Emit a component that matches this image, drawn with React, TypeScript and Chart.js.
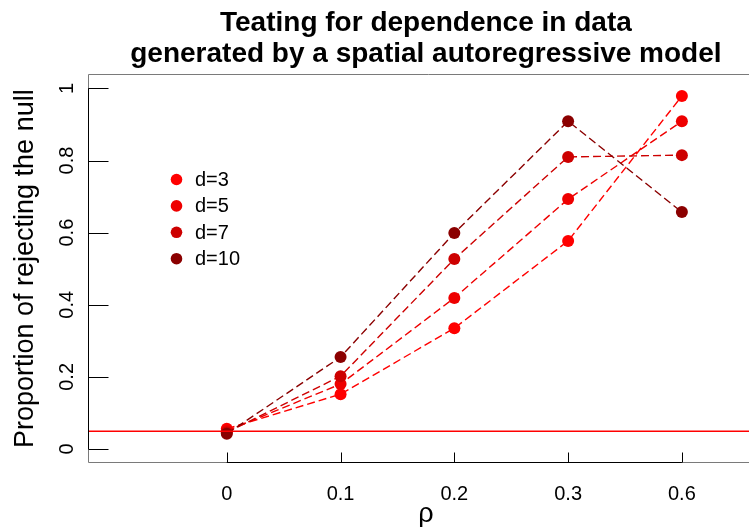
import React, { useEffect, useRef } from "react";
import { Chart, registerables } from "chart.js";

Chart.register(...registerables);

const rhoLabels = ["0", "0.1", "0.2", "0.3", "0.6"];
const seriesLabels = ["d=3", "d=5", "d=7", "d=10"];
const seriesColors = ["#FF0000", "#EE0000", "#CD0000", "#8B0000"];
const d3 = [0.056, 0.152, 0.335, 0.577, 0.979];
const d5 = [0.05, 0.18, 0.419, 0.693, 0.909];
const d7 = [0.046, 0.202, 0.527, 0.81, 0.815];
const d10 = [0.042, 0.255, 0.599, 0.909, 0.657];
const yTicks = [0, 0.2, 0.4, 0.6, 0.8, 1];
const yTickLabels = ["0", "0.2", "0.4", "0.6", "0.8", "1"];
const nullLevel = 0.05;
const titleLines = ["Teating for dependence in data", "generated by a spatial autoregressive model"];
const xTitle = "ρ";
const yTitle = "Proportion of rejecting the null";

const FONT = "'Liberation Sans', Arial, Helvetica, sans-serif";

const axesPlugin = {
  id: "rAxes",
  afterDatasetsDraw(chart: any) {
    const ctx = chart.ctx;
    const xs = chart.scales.x;
    const ys = chart.scales.y;
    const ca = chart.chartArea;
    ctx.save();
    ctx.setLineDash([]);
    // abline at null level
    const yn = ys.getPixelForValue(nullLevel);
    const row = Math.round(yn);
    ctx.fillStyle = "rgba(255,0,0,0.5)";
    ctx.fillRect(ca.left, row - 1, ca.right - ca.left, 1);
    ctx.fillStyle = "#FF0000";
    ctx.fillRect(ca.left, row, ca.right - ca.left, 1);

    const L = Math.round(ca.left) + 0.5;
    const T = Math.round(ca.top) + 0.5;
    const B = Math.round(ca.bottom) - 0.5;
    // box (gray)
    ctx.lineWidth = 1;
    ctx.strokeStyle = "#7a7a7a";
    ctx.beginPath();
    ctx.moveTo(ca.right + 5, T);
    ctx.lineTo(L, T);
    ctx.lineTo(L, B);
    ctx.lineTo(ca.right + 5, B);
    ctx.stroke();

    // axis lines and ticks
    ctx.strokeStyle = "#000000";
    const x0 = xs.getPixelForValue(0);
    const x4 = xs.getPixelForValue(rhoLabels.length - 1);
    ctx.beginPath();
    ctx.moveTo(x0, B);
    ctx.lineTo(x4, B);
    for (let i = 0; i < rhoLabels.length; i++) {
      const px = Math.round(xs.getPixelForValue(i)) + 0.5;
      ctx.moveTo(px, B);
      ctx.lineTo(px, B - 10);
    }
    const y0 = ys.getPixelForValue(yTicks[0]);
    const y1 = ys.getPixelForValue(yTicks[yTicks.length - 1]);
    ctx.moveTo(L, y0);
    ctx.lineTo(L, y1);
    for (const v of yTicks) {
      const py = Math.round(ys.getPixelForValue(v)) + 0.5;
      ctx.moveTo(L, py);
      ctx.lineTo(L + 20, py);
    }
    ctx.stroke();

    // tick labels
    ctx.fillStyle = "#000000";
    ctx.font = `20px ${FONT}`;
    ctx.textAlign = "center";
    ctx.textBaseline = "alphabetic";
    for (let i = 0; i < rhoLabels.length; i++) {
      ctx.fillText(rhoLabels[i], xs.getPixelForValue(i), 500);
    }
    yTicks.forEach((v, i) => {
      ctx.save();
      ctx.translate(73, ys.getPixelForValue(v));
      ctx.rotate(-Math.PI / 2);
      ctx.fillText(yTickLabels[i], 0, 0);
      ctx.restore();
    });

    // axis titles
    const cx = (ca.left + ca.right) / 2;
    const cy = (ca.top + ca.bottom) / 2;
    ctx.font = `27px ${FONT}`;
    ctx.fillText(xTitle, cx, 522);
    ctx.save();
    ctx.translate(32.5, cy);
    ctx.rotate(-Math.PI / 2);
    ctx.fillText(yTitle, 0, 0);
    ctx.restore();

    // main title
    ctx.font = `bold 28px ${FONT}`;
    ctx.fillText(titleLines[0], cx, 30.5);
    ctx.fillText(titleLines[1], cx, 62);

    // legend
    ctx.font = `20px ${FONT}`;
    ctx.textAlign = "left";
    ctx.textBaseline = "middle";
    seriesLabels.forEach((lab, i) => {
      const ly = 179.5 + i * 26.4;
      ctx.fillStyle = seriesColors[i];
      ctx.beginPath();
      ctx.arc(176.5, ly, 5.8, 0, Math.PI * 2);
      ctx.fill();
      ctx.fillStyle = "#000000";
      ctx.fillText(lab, 195, ly + 1);
    });
    ctx.restore();
  },
};

export default function App() {
  const ref = useRef<HTMLCanvasElement | null>(null);
  useEffect(() => {
    if (!ref.current) return;
    const all = [d3, d5, d7, d10];
    const datasets = all.map((arr, k) => ({
      label: seriesLabels[k],
      data: arr.map((v, i) => ({ x: i, y: v })),
      borderColor: seriesColors[k],
      backgroundColor: seriesColors[k],
      pointBackgroundColor: seriesColors[k],
      pointBorderColor: seriesColors[k],
      pointBorderWidth: 0,
      pointRadius: 6,
      borderWidth: 1.4,
      borderDash: [8, 4],
      tension: 0,
      fill: false,
      order: 4 - k,
    }));
    const chart = new Chart(ref.current, {
      type: "line",
      data: { datasets },
      options: {
        responsive: false,
        animation: false,
        events: [],
        layout: { padding: { left: 88, top: 74, right: 36.2, bottom: 63.6 } },
        plugins: { legend: { display: false }, title: { display: false }, tooltip: { enabled: false } },
        scales: {
          x: { type: "linear", display: false, min: -1.22, max: 4.72 },
          y: { type: "linear", display: false, min: -0.04, max: 1.04 },
        },
      },
      plugins: [axesPlugin],
    });
    return () => chart.destroy();
  }, []);
  return (
    <div style={{ position: "absolute", left: 0, top: 0, width: 749, height: 527, overflow: "hidden", background: "#fff" }}>
      <canvas ref={ref} width={800} height={527} style={{ display: "block" }} />
    </div>
  );
}
